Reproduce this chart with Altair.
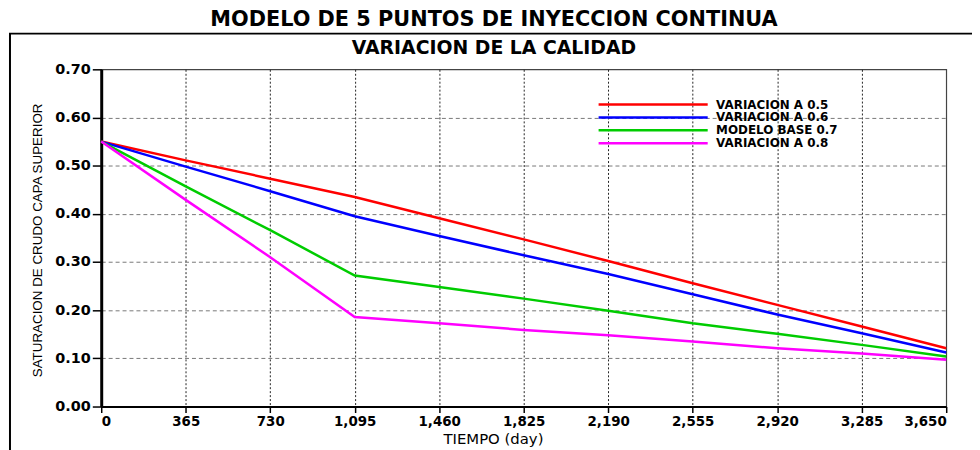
import altair as alt
import pandas as pd

main_title = "MODELO DE 5 PUNTOS DE INYECCION CONTINUA"
sub_title = "VARIACION DE LA CALIDAD"
x_title = "TIEMPO (day)"
y_title = "SATURACION DE CRUDO CAPA SUPERIOR"

days = [0, 365, 730, 1095, 1460, 1825, 2190, 2555, 2920, 3285, 3650]
y_ticks = [0.0, 0.1, 0.2, 0.3, 0.4, 0.5, 0.6, 0.7]

series_names = ["VARIACION A 0.5", "VARIACION A 0.6", "MODELO BASE 0.7", "VARIACION A 0.8"]
series_colors = ["#ff0000", "#0000ff", "#00cc00", "#ff00ff"]

var_05 = [0.55, 0.511, 0.473, 0.435, 0.391, 0.347, 0.302, 0.256, 0.211, 0.166, 0.121]
var_06 = [0.55, 0.498, 0.447, 0.395, 0.354, 0.314, 0.275, 0.233, 0.191, 0.152, 0.112]
base_07 = [0.55, 0.457, 0.366, 0.272, 0.248, 0.224, 0.199, 0.173, 0.151, 0.128, 0.104]
var_08 = [0.55, 0.429, 0.310, 0.186, 0.173, 0.159, 0.148, 0.135, 0.121, 0.110, 0.097]

rows = []
for name, vals in zip(series_names, [var_05, var_06, base_07, var_08]):
    for d, v in zip(days, vals):
        rows.append({"serie": name, "tiempo": d, "sat": v})
df = pd.DataFrame(rows)

W, H = 852, 340
PL, PT = 94, 60

lines = alt.Chart(df).mark_line(strokeWidth=2.5).encode(
    x=alt.X(
        "tiempo:Q",
        scale=alt.Scale(domain=[0, 3650], nice=False, zero=False),
        axis=alt.Axis(
            values=days, format=",d", title=x_title,
            labelFont="DejaVu Sans", labelFontWeight="bold", labelFontSize=13.5,
            labelColor="black", labelPadding=2,
            tickColor="black", tickSize=6, tickWidth=1.5,
            domainColor="black", domainWidth=2,
            grid=True, gridColor="#222222", gridDash=[2, 2], gridWidth=1,
            gridOpacity={"condition": {"test": "datum.value > 0 && datum.value < 3650", "value": 1}, "value": 0},
            titleFont="DejaVu Sans", titleFontWeight="normal", titleFontSize=15,
            titleColor="black", titleX=395, titleY=37, titleAlign="center",
            titleBaseline="alphabetic",
        ),
    ),
    y=alt.Y(
        "sat:Q",
        scale=alt.Scale(domain=[0, 0.7], nice=False),
        axis=alt.Axis(
            values=y_ticks, format=".2f", title=y_title,
            labelFont="DejaVu Sans", labelFontWeight="bold", labelFontSize=14.5,
            labelColor="black", labelPadding=2,
            tickColor="black", tickSize=9, tickWidth=1.5,
            domainColor="black", domainWidth=3,
            grid=True, gridColor="#777777", gridDash=[4, 3], gridWidth=1,
            gridOpacity={"condition": {"test": "datum.value > 0 && datum.value < 0.7", "value": 1}, "value": 0},
            titleFont="Liberation Sans", titleFontWeight="normal", titleFontSize=13.5,
            titleColor="black", titleAngle=-90, titleX=-64, titleY=H / 2 + 2,
            titleAlign="center", titleBaseline="middle",
        ),
    ),
    color=alt.Color(
        "serie:N",
        scale=alt.Scale(domain=series_names, range=series_colors),
        legend=alt.Legend(
            title=None, orient="none", legendX=550, legendY=29,
            symbolType="M-11,0H11", symbolSize=100, symbolStrokeWidth=2.5,
            labelFont="DejaVu Sans", labelFontWeight="bold", labelFontSize=12,
            labelColor="black", labelOffset=57, rowPadding=0,
            padding=0,
        ),
    ),
)

box = alt.Chart(pd.DataFrame({"k": [0]})).mark_rect(
    fill="transparent", stroke="black", strokeWidth=2
).encode(
    x=alt.value(-92), x2=alt.value(W + 200),
    y=alt.value(-36), y2=alt.value(H + 200),
)

title_main = alt.Chart(pd.DataFrame({"t": [main_title]})).mark_text(
    font="DejaVu Sans", fontWeight="bold", fontSize=21, color="black",
    align="center", baseline="alphabetic",
).encode(text="t:N", x=alt.value(396), y=alt.value(-44))

title_sub = alt.Chart(pd.DataFrame({"t": [sub_title]})).mark_text(
    font="DejaVu Sans", fontWeight="bold", fontSize=19, color="black",
    align="center", baseline="alphabetic",
).encode(text="t:N", x=alt.value(396), y=alt.value(-15))

chart = alt.layer(box, title_main, title_sub, lines).properties(
    width=W, height=H,
    autosize=alt.AutoSizeParams(type="none"),
    padding={"left": PL, "top": PT, "right": 972 - PL - W, "bottom": 442 - PT - H},
    background="white",
).configure_view(stroke="#444444", strokeWidth=1.2)

chart.save("out.html", embed_options={"renderer": "svg", "actions": False})
